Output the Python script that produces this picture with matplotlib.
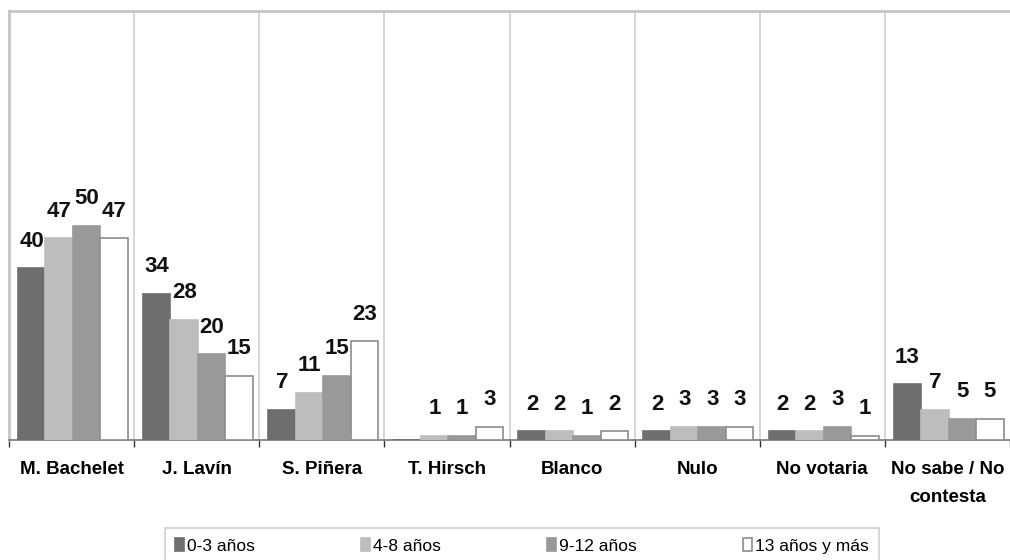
import numpy as np
import matplotlib
matplotlib.use("Agg")
import matplotlib.pyplot as plt

# datos
categorias = ['M. Bachelet', 'J. Lavín', 'S. Piñera', 'T. Hirsch', 'Blanco',
              'Nulo', 'No votaria', 'No sabe / No\ncontesta']
series = ['0-3 años', '4-8 años', '9-12 años', '13 años y más']
v_0_3 = [40, 34, 7, 0, 2, 2, 2, 13]
v_4_8 = [47, 28, 11, 1, 2, 3, 2, 7]
v_9_12 = [50, 20, 15, 1, 1, 3, 3, 5]
v_13 = [47, 15, 23, 3, 2, 3, 1, 5]
# T. Hirsch 0-3 no tiene etiqueta
sin_etiqueta = [(0, 3)]

colores = ['#6e6e6e', '#bdbdbd', '#999999', '#ffffff']
bordes = ['#6e6e6e', '#bdbdbd', '#999999', '#8c8c8c']

plt.rcParams['font.family'] = ['Liberation Sans', 'DejaVu Sans']

fig = plt.figure(figsize=(10.1, 5.6), dpi=100)
ax = fig.add_axes([9/1010, 1 - 440/560, 1001/1010, 429/560])

x = np.arange(len(categorias))
ancho = 0.22
datos = [v_0_3, v_4_8, v_9_12, v_13]
barras = []
for i, vals in enumerate(datos):
    pos = x + (i - 1.5) * ancho + 0.01
    b = ax.bar(pos, vals, width=ancho, color=colores[i], edgecolor=bordes[i],
               linewidth=1.2, label=series[i], zorder=3)
    barras.append(b)
    for j, v in enumerate(vals):
        if (i, j) in sin_etiqueta:
            continue
        ax.annotate(str(v), (pos[j], v), xytext=(0, 12), textcoords='offset points',
                    ha='center', va='bottom', fontsize=16, fontweight='bold',
                    color='#111111')

ax.set_xlim(-0.5, len(categorias) - 0.5)
ax.set_ylim(0, 100)
ax.set_yticks([])

# separadores verticales
for b in np.arange(0.5, len(categorias) - 0.5, 1):
    ax.axvline(b, color='#cfcfcf', linewidth=1.2, zorder=1)

ax.set_xticks(x)
ax.set_xticklabels(categorias, fontsize=13.5, fontweight='bold', linespacing=1.85)
ax.tick_params(axis='x', which='major', length=0, pad=15)
ax.set_xticks(np.arange(-0.5, len(categorias), 1), minor=True)
ax.tick_params(axis='x', which='minor', length=5, width=1, color='#333333', direction='out')

ax.spines['bottom'].set_color('#777777')
ax.spines['bottom'].set_linewidth(1.2)
for s in ['top', 'left']:
    ax.spines[s].set_color('#c4c4c4')
    ax.spines[s].set_linewidth(2)
ax.spines['right'].set_visible(False)

leg = fig.legend(handles=barras, loc='upper center', bbox_to_anchor=(522/1010, 1 - 519/560),
                 ncol=4, fontsize=12.5, frameon=True, fancybox=False,
                 handlelength=0.5, handleheight=0.8, handletextpad=0.2,
                 columnspacing=6.1, borderpad=0.6, edgecolor='#c4c4c4')
leg.get_frame().set_linewidth(1.2)

fig.savefig('out.png', dpi=100)
